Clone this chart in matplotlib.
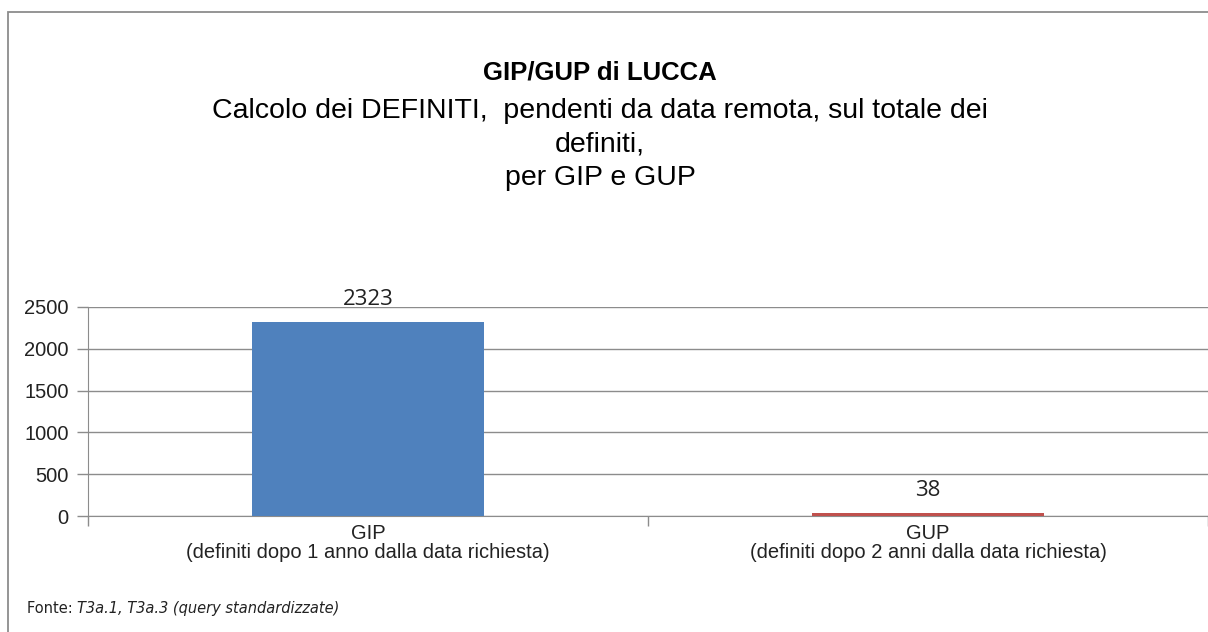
import matplotlib.pyplot as plt
from matplotlib.patches import Rectangle

# dati
categorie = ["GIP\n(definiti dopo 1 anno dalla data richiesta)",
             "GUP\n(definiti dopo 2 anni dalla data richiesta)"]
valori = [2323, 38]
colori = ["#4F81BD", "#C0504D"]
yticks = [0, 500, 1000, 1500, 2000, 2500]

W, H = 1208, 632
fig = plt.figure(figsize=(W / 100, H / 100), dpi=100)
plt.rcParams['font.family'] = ['Liberation Sans', 'DejaVu Sans']

# cornice esterna (come nell'originale, aperta a destra e in basso)
fig.patches.append(Rectangle((8 / W, -0.1), 1.2, (H - 12) / H + 0.1,
                             transform=fig.transFigure, fill=False,
                             edgecolor="#8c8c8c", linewidth=1.3))

ax = fig.add_axes([88 / W, 116 / H, 1 - 88 / W, 209 / H])
x = list(range(len(valori)))
ax.bar(x, valori, width=0.416, color=colori, zorder=3)
ax.set_xlim(-0.5, 1.5)
ax.set_ylim(0, 2500)
ax.set_yticks(yticks)
ax.yaxis.grid(True, color="#8c8c8c", linewidth=1.0, zorder=0)

# tick di separazione categorie + etichette centrate
ax.set_xticks([-0.5, 0.5, 1.5])
ax.set_xticklabels([])
ax.set_xticks(x, minor=True)
ax.set_xticklabels(categorie, minor=True, fontsize=14.5, color="#222222", linespacing=0.95)
ax.tick_params(axis="x", which="major", length=7, color="#8c8c8c", width=1.0)
ax.tick_params(axis="x", which="minor", length=0, pad=6)
ax.tick_params(axis="y", length=8, color="#8c8c8c", width=1.0, labelsize=14.5,
               labelcolor="#222222", pad=6)

for s in ["top", "right"]:
    ax.spines[s].set_visible(False)
ax.spines["left"].set_color("#8c8c8c")
ax.spines["bottom"].set_color("#8c8c8c")

for xi, v in zip(x, valori):
    ax.annotate(str(v), (xi, v), xytext=(0, 8.5), textcoords="offset points",
                ha="center", va="bottom", fontsize=16, color="#222222",
                family=["Open Sans", "DejaVu Sans"])

fig.text(600 / W, 1 - 73 / H, "GIP/GUP di LUCCA", ha="center", va="center",
         fontsize=18.5, fontweight="bold", color="black")
fig.text(600 / W, 1 - 144.5 / H,
         "Calcolo dei DEFINITI,  pendenti da data remota, sul totale dei\ndefiniti,\nper GIP e GUP",
         ha="center", va="center", fontsize=20.5, color="black", linespacing=1.36)

t1 = fig.text(27 / W, 1 - 613 / H, "Fonte: ", ha="left", va="baseline", fontsize=10.5,
              family=["DejaVu Sans"], color="#222222")
fig.canvas.draw()
bb = t1.get_window_extent()
fig.text(bb.x1 / W, 1 - 613 / H, "T3a.1, T3a.3 (query standardizzate)", ha="left", va="baseline",
         fontsize=10.5, style="italic", family=["DejaVu Sans"], color="#222222")

fig.savefig("out.png", dpi=100)
